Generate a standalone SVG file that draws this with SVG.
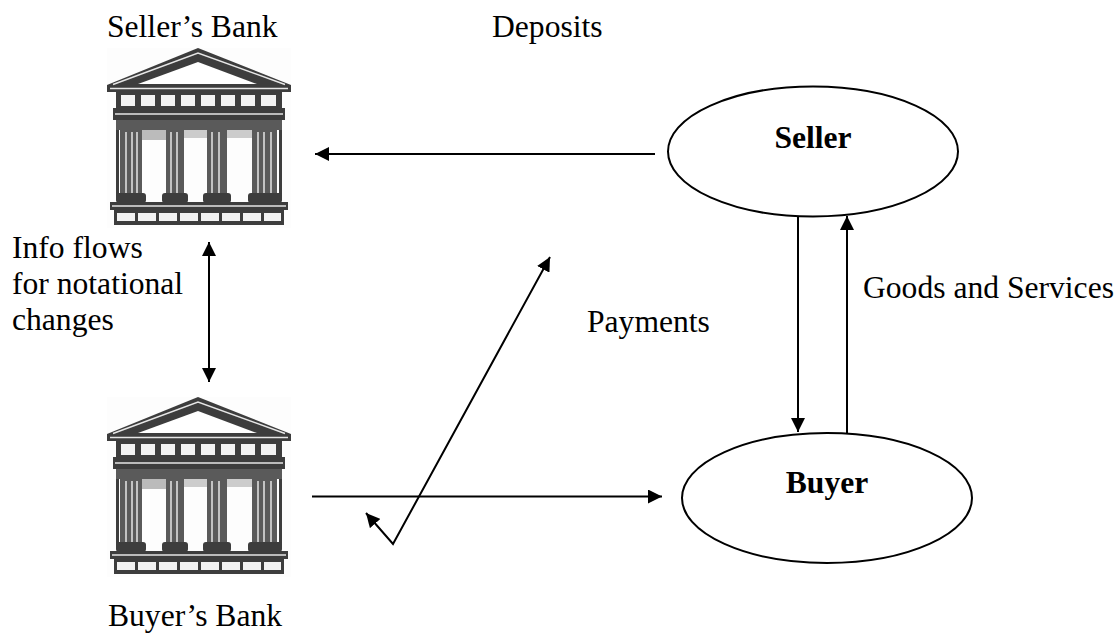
<svg xmlns="http://www.w3.org/2000/svg" width="1120" height="633" viewBox="0 0 1120 633">
<style>
  .t { font-family: "Liberation Serif", "Times New Roman", serif; font-size: 31.6px; fill: #000; }
  .b { font-weight: bold; }
  .node { fill: #fff; stroke: #000; stroke-width: 2; }
  .conn { fill: none; stroke: #000; stroke-width: 2; }
  .dk { fill: #3d3d3d; }
  .md { fill: #5a5a5a; }
  .lt { fill: #f2f2f2; }
  .hl { stroke: #e6e6e6; stroke-width: 1.5; fill: none; }
</style>
<defs>
  <marker id="ah" markerUnits="userSpaceOnUse" viewBox="0 0 14 14" markerWidth="14" markerHeight="14" refX="14" refY="7" orient="auto-start-reverse">
    <path d="M0,0 L14,7 L0,14 z" fill="#000"/>
  </marker>
  <symbol id="bank" viewBox="0 0 184 180" width="184" height="180">
    <rect x="0" y="0" width="184" height="180" fill="#fdfdfd"/>
    <polygon class="dk" points="91,0 184,37 184,44 0,44 0,37"/>
    <polyline class="hl" points="6,36.5 91,5 178,36.5" stroke-width="1.2"/>
    <polygon fill="#fff" points="91,14 150,36 31,36"/>
    <line class="hl" x1="3" y1="40.5" x2="181" y2="40.5" stroke-width="1"/>
    <rect class="dk" x="9" y="44" width="166" height="16"/>
    <g class="lt">
      <rect x="14" y="47" width="14" height="11"/>
      <rect x="34" y="47" width="14" height="11"/>
      <rect x="54" y="47" width="14" height="11"/>
      <rect x="74" y="47" width="14" height="11"/>
      <rect x="94" y="47" width="14" height="11"/>
      <rect x="114" y="47" width="14" height="11"/>
      <rect x="134" y="47" width="14" height="11"/>
      <rect x="154" y="47" width="15" height="11"/>
    </g>
    <rect class="dk" x="6" y="60" width="172" height="12"/>
    <line class="hl" x1="8" y1="66" x2="176" y2="66" stroke-width="2"/>
    <rect class="md" x="9" y="72" width="166" height="10"/>
    <rect x="35" y="82" width="24" height="10" fill="#bbb"/>
    <rect x="77" y="82" width="23" height="8" fill="#ccc"/>
    <rect x="120" y="82" width="25" height="8" fill="#ccc"/>
    <rect class="dk" x="9" y="82" width="3" height="66"/>
    <rect class="md" x="13" y="82" width="22" height="65"/>
    <rect class="md" x="59" y="82" width="18" height="65"/>
    <rect class="md" x="100" y="82" width="20" height="65"/>
    <rect class="md" x="145" y="82" width="25" height="65"/>
    <rect class="dk" x="172" y="82" width="3" height="66"/>
    <g class="hl" stroke-width="1.6">
      <line x1="19" y1="84" x2="19" y2="146"/><line x1="25" y1="84" x2="25" y2="146"/><line x1="30" y1="84" x2="30" y2="146"/>
      <line x1="64" y1="84" x2="64" y2="146"/><line x1="70" y1="84" x2="70" y2="146"/>
      <line x1="105" y1="84" x2="105" y2="146"/><line x1="112" y1="84" x2="112" y2="146"/>
      <line x1="151" y1="84" x2="151" y2="146"/><line x1="157" y1="84" x2="157" y2="146"/><line x1="164" y1="84" x2="164" y2="146"/>
    </g>
    <g class="dk">
      <rect x="9" y="145" width="30" height="10" rx="3"/>
      <rect x="55" y="145" width="26" height="10" rx="3"/>
      <rect x="96" y="145" width="28" height="10" rx="3"/>
      <rect x="141" y="145" width="34" height="10" rx="3"/>
    </g>
    <rect class="dk" x="3" y="154" width="178" height="8"/>
    <line class="hl" x1="5" y1="158" x2="179" y2="158" stroke-width="1.5"/>
    <rect class="dk" x="7" y="162" width="170" height="15"/>
    <g class="lt">
      <rect x="10" y="165" width="18" height="8"/>
      <rect x="31" y="165" width="18" height="8"/>
      <rect x="52" y="165" width="18" height="8"/>
      <rect x="73" y="165" width="18" height="8"/>
      <rect x="94" y="165" width="18" height="8"/>
      <rect x="115" y="165" width="18" height="8"/>
      <rect x="136" y="165" width="18" height="8"/>
      <rect x="157" y="165" width="17" height="8"/>
    </g>
  </symbol>
</defs>
<rect x="0" y="0" width="1120" height="633" fill="#fff"/>

<g id="sellers-bank">
  <use href="#bank" x="107" y="48"/>
  <text class="t" x="107" y="37">Seller’s Bank</text>
</g>

<g id="buyers-bank">
  <use href="#bank" x="107" y="397"/>
  <text class="t" x="108" y="626">Buyer’s Bank</text>
</g>

<g id="seller">
  <ellipse class="node" cx="813" cy="151.5" rx="145" ry="65"/>
  <text class="t b" x="813" y="148" text-anchor="middle">Seller</text>
</g>

<g id="buyer">
  <ellipse class="node" cx="827" cy="498" rx="145" ry="65"/>
  <text class="t b" x="827" y="493" text-anchor="middle">Buyer</text>
</g>

<g id="connectors">
  <line class="conn" x1="655" y1="154" x2="315" y2="154" marker-end="url(#ah)"/>
  <line class="conn" x1="209" y1="242" x2="209" y2="382" marker-start="url(#ah)" marker-end="url(#ah)"/>
  <line class="conn" x1="312" y1="496.5" x2="662" y2="496.5" marker-end="url(#ah)"/>
  <polyline class="conn" points="366,513 393,544 550,257" marker-start="url(#ah)" marker-end="url(#ah)"/>
  <line class="conn" x1="798" y1="217" x2="798" y2="432" marker-end="url(#ah)"/>
  <line class="conn" x1="847" y1="433" x2="847" y2="216" marker-end="url(#ah)"/>
</g>

<g id="labels">
  <text class="t" x="492" y="37">Deposits</text>
  <text class="t" x="12" y="258">Info flows</text>
  <text class="t" x="12" y="294">for notational</text>
  <text class="t" x="12" y="330">changes</text>
  <text class="t" x="587" y="332">Payments</text>
  <text class="t" x="863" y="298">Goods and Services</text>
</g>
</svg>
